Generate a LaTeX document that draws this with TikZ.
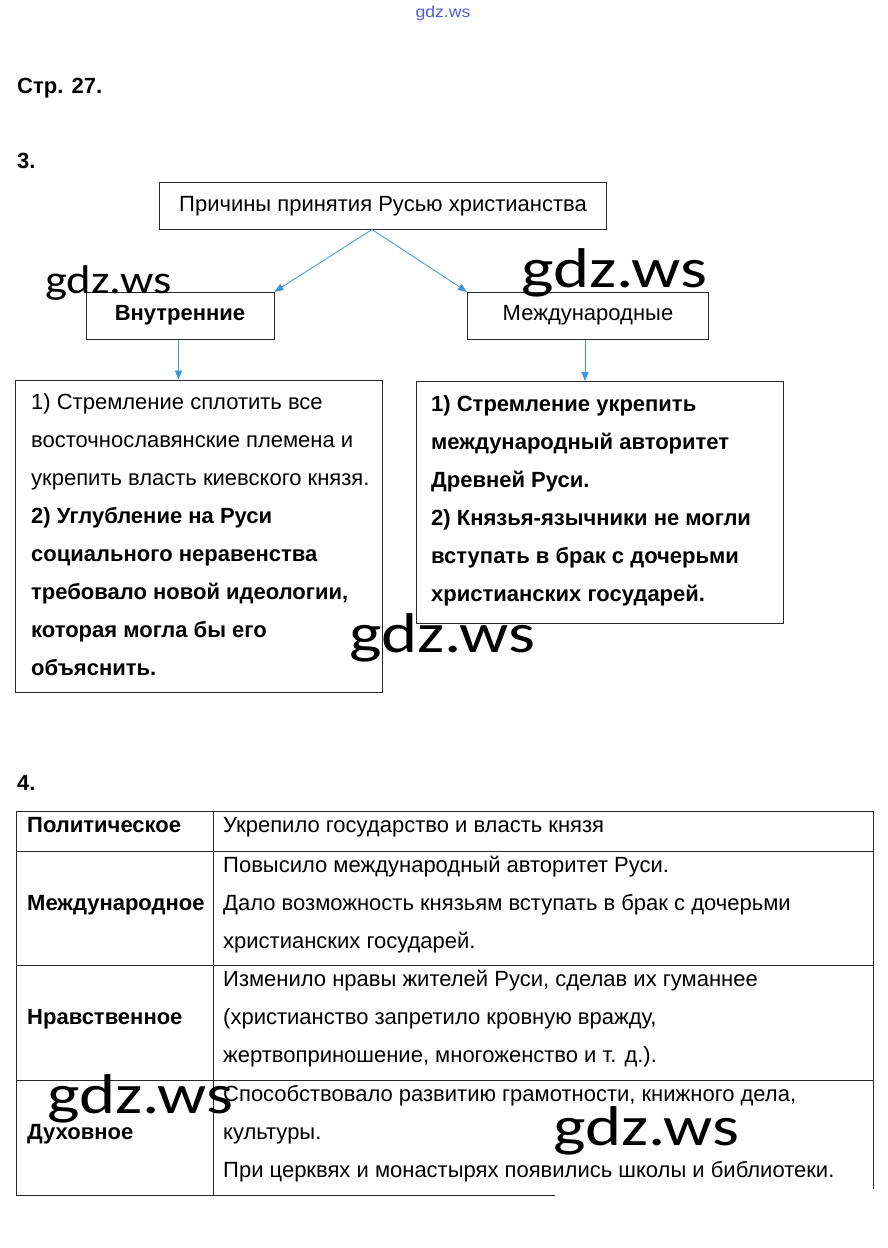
\documentclass[tikz,border=0pt]{standalone}
\usepackage{fontspec}
\setmainfont{Liberation Sans}
\newfontfamily\wmfont{Carlito}
\usetikzlibrary{arrows.meta}
\definecolor{arrblue}{RGB}{55,150,220}
\definecolor{wmblue}{RGB}{80,95,215}
\definecolor{boxgray}{RGB}{40,40,40}
\begin{document}
\begin{tikzpicture}[x=1pt,y=-1pt,
  box/.style={draw=boxgray,line width=1pt,rectangle,inner sep=0pt},
  txt/.style={inner sep=0pt,anchor=base west,font=\fontsize{22}{26}\selectfont},
  btxt/.style={txt,font=\fontsize{22}{26}\selectfont\bfseries},
  ctxt/.style={inner sep=0pt,anchor=base,font=\fontsize{22}{26}\selectfont},
  conn/.style={draw=arrblue,line width=0.8pt,-{Triangle[length=9,width=7]}},
  wm/.style={inner sep=0pt,anchor=base west,xscale=1.23,font=\wmfont\fontsize{56}{60}\selectfont},
  tline/.style={draw=boxgray,line width=1pt}]
\useasboundingbox (0,0) rectangle (887,1248);
% small watermark
\node[inner sep=0pt,anchor=base,text=wmblue,xscale=1.1,font=\fontsize{16}{18}\selectfont] (wm0) at (443,17) {gdz.ws};
% headings
\node[btxt] (page) at (17,93) {Стр. 27.};
\node[btxt] (n3) at (17,168) {3.};
\node[btxt] (n4) at (17,790) {4.};
% diagram boxes
\node[box,minimum width=447,minimum height=47] (top) at (383,205.5) {};
\node[ctxt] (toplbl) at (383,211) {Причины принятия Русью христианства};
\node[box,minimum width=188,minimum height=47] (inner) at (180,315.8) {};
\node[ctxt,font=\fontsize{22}{26}\selectfont\bfseries] (innerlbl) at (180,320) {Внутренние};
\node[box,minimum width=241,minimum height=47] (intl) at (588,315.8) {};
\node[ctxt] (intllbl) at (588,320) {Международные};
\node[box,minimum width=367,minimum height=312] (lbox) at (199,536) {};
\node[box,minimum width=367,minimum height=242] (rbox) at (600,502.5) {};
% connectors
\coordinate (apex) at (372,229.5);
\draw[conn] (apex) -- (inner.north east);
\draw[conn] (apex) -- (intl.north west);
\draw[conn] (inner.south -| 178.5,0) -- (lbox.north -| 178.5,0);
\draw[conn] (intl.south -| 585,0) -- (rbox.north -| 585,0);
% left box text
\node[txt] (l1) at (31,409) {1) Стремление сплотить все};
\node[txt] (l2) at (31,447) {восточнославянские племена и};
\node[txt] (l3) at (31,485) {укрепить власть киевского князя.};
\node[btxt] (l4) at (31,523) {2) Углубление на Руси};
\node[btxt] (l5) at (31,561) {социального неравенства};
\node[btxt] (l6) at (31,599) {требовало новой идеологии,};
\node[btxt] (l7) at (31,637) {которая могла бы его};
\node[btxt] (l8) at (31,675) {объяснить.};
% right box text
\node[btxt] (r1) at (431,411) {1) Стремление укрепить};
\node[btxt] (r2) at (431,449) {международный авторитет};
\node[btxt] (r3) at (431,487) {Древней Руси.};
\node[btxt] (r4) at (431,525) {2) Князья-язычники не могли};
\node[btxt] (r5) at (431,563) {вступать в брак с дочерьми};
\node[btxt] (r6) at (431,601) {христианских государей.};
% table
\coordinate (tbl) at (16.5,1195);
\draw[tline] (555,1195) -- (tbl) -- (16.5,811.5) -- (873,811.5) -- (873,1189);
\draw[tline] (16.5,851) -- (873,851);
\draw[tline] (16.5,965) -- (873,965);
\draw[tline] (16.5,1080) -- (873,1080);
\draw[tline] (213,811.5) -- (213,1195);
\node[btxt] (c1) at (27,832) {Политическое};
\node[txt] (d1) at (223,832) {Укрепило государство и власть князя};
\node[btxt] (c2) at (27,910) {Международное};
\node[txt] (d2a) at (223,872) {Повысило международный авторитет Руси.};
\node[txt] (d2b) at (223,910) {Дало возможность князьям вступать в брак с дочерьми};
\node[txt] (d2c) at (223,948) {христианских государей.};
\node[btxt] (c3) at (27,1024) {Нравственное};
\node[txt] (d3a) at (223,986) {Изменило нравы жителей Руси, сделав их гуманнее};
\node[txt] (d3b) at (223,1024) {(христианство запретило кровную вражду,};
\node[txt] (d3c) at (223,1062) {жертвоприношение, многоженство и т. д.).};
\node[btxt] (c4) at (27,1139) {Духовное};
\node[txt] (d4a) at (223,1101) {Способствовало развитию грамотности, книжного дела,};
\node[txt] (d4b) at (223,1139) {культуры.};
\node[txt] (d4c) at (223,1177) {При церквях и монастырях появились школы и библиотеки.};
% watermarks
\node[wm,xscale=0.95,font=\wmfont\fontsize{40}{44}\selectfont] (wm1) at (45,293) {gdz.ws};
\node[wm] (wm2) at (521,287) {gdz.ws};
\node[wm] (wm3) at (349,652) {gdz.ws};
\node[wm] (wm4) at (47,1113) {gdz.ws};
\node[wm] (wm5) at (553,1145) {gdz.ws};
\end{tikzpicture}
\end{document}
